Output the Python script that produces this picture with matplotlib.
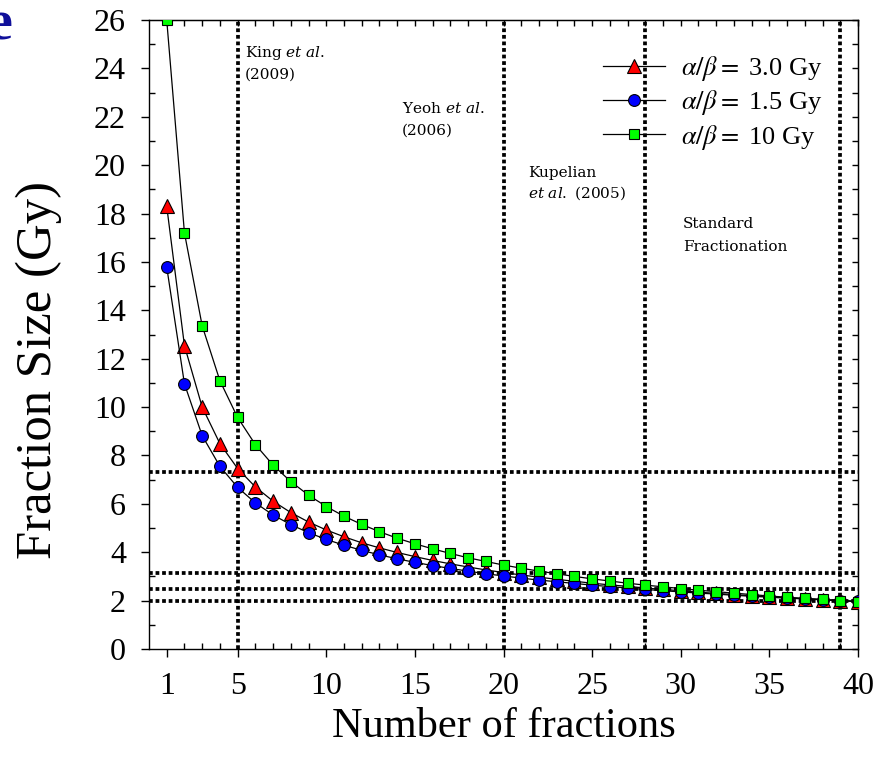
import matplotlib
matplotlib.use("Agg")
import matplotlib.pyplot as plt
from matplotlib.ticker import NullFormatter

plt.rcParams['font.family'] = ['Liberation Serif', 'DejaVu Serif']
plt.rcParams['mathtext.fontset'] = 'stix'

# Number of fractions
fractions = [1, 2, 3, 4, 5, 6, 7, 8, 9, 10, 11, 12, 13, 14, 15, 16, 17, 18, 19, 20,
             21, 22, 23, 24, 25, 26, 27, 28, 29, 30, 31, 32, 33, 34, 35, 36, 37, 38, 39, 40]

# Isoeffective fraction size (Gy) for each alpha/beta
size_ab3 = [18.30, 12.54, 10.00, 8.49, 7.46, 6.70, 6.11, 5.64, 5.25, 4.92,
            4.64, 4.39, 4.18, 3.99, 3.82, 3.66, 3.52, 3.39, 3.27, 3.16,
            3.06, 2.97, 2.88, 2.80, 2.72, 2.65, 2.59, 2.52, 2.46, 2.41,
            2.35, 2.30, 2.25, 2.20, 2.16, 2.12, 2.08, 2.04, 2.00, 1.96]
size_ab15 = [15.79, 10.96, 8.82, 7.55, 6.68, 6.04, 5.54, 5.14, 4.81, 4.53,
             4.29, 4.08, 3.89, 3.73, 3.58, 3.45, 3.33, 3.22, 3.11, 3.02,
             2.93, 2.85, 2.78, 2.71, 2.64, 2.58, 2.52, 2.46, 2.41, 2.36,
             2.31, 2.27, 2.22, 2.18, 2.14, 2.10, 2.07, 2.03, 2.00, 1.97]
size_ab10 = [26.00, 17.20, 13.36, 11.09, 9.57, 8.45, 7.60, 6.92, 6.36, 5.89,
             5.49, 5.15, 4.85, 4.58, 4.35, 4.14, 3.95, 3.77, 3.62, 3.47,
             3.34, 3.22, 3.11, 3.00, 2.90, 2.81, 2.72, 2.64, 2.57, 2.50,
             2.43, 2.37, 2.31, 2.25, 2.19, 2.14, 2.09, 2.05, 2.00, 1.96]

series_labels = [r'$\alpha/\beta =$ 3.0 Gy', r'$\alpha/\beta =$ 1.5 Gy', r'$\alpha/\beta =$ 10 Gy']

# Trial regimens: number of fractions and fraction size
trial_fractions = [5, 20, 28, 39]
trial_sizes = [7.33, 3.14, 2.50, 2.00]

x_major = [1, 5, 10, 15, 20, 25, 30, 35, 40]

fig = plt.figure(figsize=(8.88, 7.65), dpi=100)
ax = fig.add_axes([149 / 888, 1 - 649 / 765, 709 / 888, 629 / 765])

dot = dict(color='black', lw=2.7, linestyle=(0, (1, 0.75)), dash_capstyle='butt', zorder=1)
for xv in trial_fractions:
    ax.axvline(xv, **dot)
for yv in trial_sizes:
    ax.axhline(yv, **dot)

common = dict(color='black', lw=0.9, markeredgecolor='black', markeredgewidth=0.8)
l3, = ax.plot(fractions, size_ab3, marker='^', markerfacecolor='#ff0000', markersize=9.5,
              zorder=3, **common)
l15, = ax.plot(fractions, size_ab15, marker='o', markerfacecolor='#0000ff', markersize=8.5,
               zorder=4, **common)
l10, = ax.plot(fractions, size_ab10, marker='s', markerfacecolor='#00ff00', markersize=7,
               zorder=5, **common)

ax.set_xlim(0, 40)
ax.set_ylim(0, 26)
ax.set_xticks(x_major)
ax.set_xticks(range(1, 41), minor=True)
ax.set_yticks(range(0, 27, 2))
ax.set_yticks(range(1, 27, 2), minor=True)
ax.tick_params(which='major', direction='out', length=5.5, width=1.0, labelsize=23, pad=11)
ax.tick_params(which='minor', direction='in', length=4, width=1.0)
for s in ax.spines.values():
    s.set_linewidth(1.0)

top = ax.secondary_xaxis('top')
top.set_xticks(range(1, 41))
top.xaxis.set_major_formatter(NullFormatter())
top.tick_params(direction='in', length=4, width=1.0)
right = ax.secondary_yaxis('right')
right.set_yticks(range(0, 27))
right.yaxis.set_major_formatter(NullFormatter())
right.tick_params(direction='in', length=4, width=1.0)

ax.set_xlabel('Number of fractions', fontsize=30.5, labelpad=5)
fig.text(39 / 888, 1 - 370 / 765, 'Fraction Size (Gy)', fontsize=36.5, rotation=90,
         ha='center', va='center')

leg = ax.legend([l3, l15, l10], series_labels, loc='upper left',
                bbox_to_anchor=(0.640, 0.946), frameon=False, fontsize=19,
                handlelength=2.35, handletextpad=0.6, labelspacing=0.2,
                borderpad=0, borderaxespad=0)
for t in leg.get_texts():
    t.set_math_fontfamily('stix')

notes = [
    (5.42, 24.47, r'King $\mathit{et\ al.}$'), (5.42, 23.56, '(2009)'),
    (14.26, 22.16, r'Yeoh $\mathit{et\ al.}$'), (14.26, 21.25, '(2006)'),
    (21.40, 19.53, 'Kupelian'), (21.40, 18.64, r'$\mathit{et\ al.}$ (2005)'),
    (30.11, 17.39, 'Standard'), (30.11, 16.47, 'Fractionation'),
]
for xv, yv, s in notes:
    ax.text(xv, yv, s, fontsize=11, family='DejaVu Serif', math_fontfamily='dejavuserif',
            ha='left', va='baseline', zorder=6)

fig.text(0.0, 1 - 40 / 765, 'e', fontsize=42, fontweight='bold', color='#10109a',
         ha='center', va='baseline')

fig.savefig('out.png', dpi=100)
